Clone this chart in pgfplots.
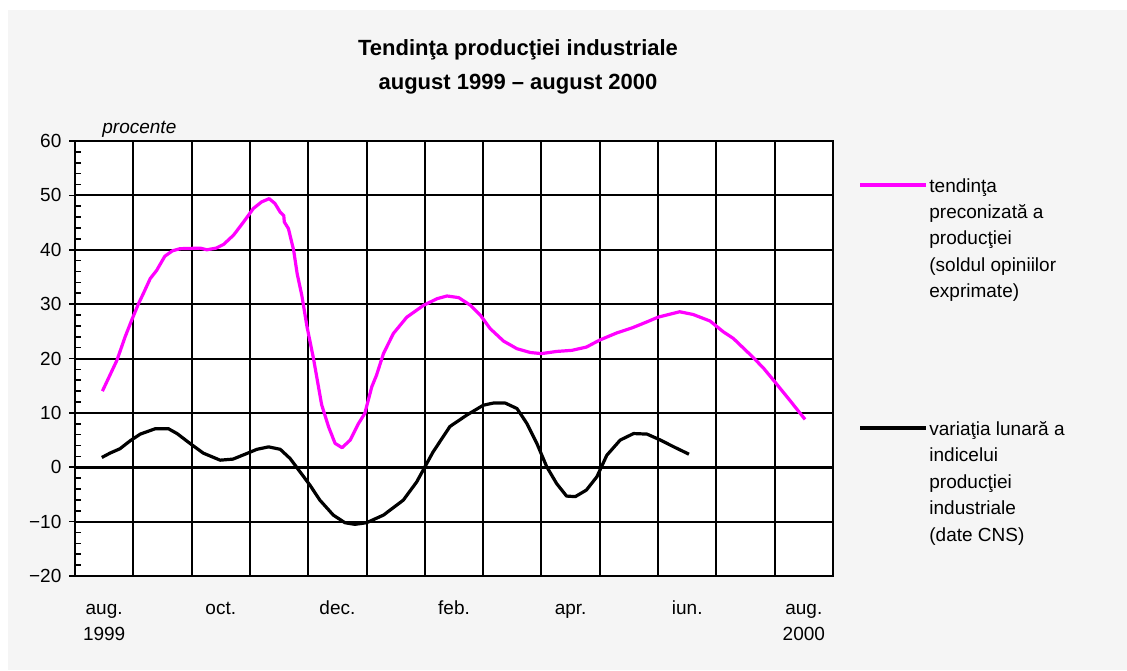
\documentclass[border=0pt]{standalone}
\usepackage{fontspec}
\setmainfont{Liberation Sans}
\usepackage{pgfplots}
\pgfplotsset{compat=1.18}
\definecolor{bg}{RGB}{245,245,245}
\definecolor{mag}{RGB}{255,0,255}

\begin{document}
\begin{tikzpicture}
\fill[white] (0pt,0pt) rectangle (563.5pt,335pt);
\fill[bg] (4pt,0pt) rectangle (563.5pt,330pt);
\begin{axis}[
    at={(37.5pt,47pt)}, anchor=south west,
    scale only axis, width=379pt, height=217.5pt,
    xmin=-0.5, xmax=12.5, ymin=-20, ymax=60,
    axis background/.style={fill=white},
    axis line style={line width=1.1pt},
    xtick={0,2,...,12},
    xticklabels={{aug.\strut\\1999},oct.\strut,dec.\strut,feb.\strut,apr.\strut,iun.\strut,{aug.\strut\\2000}},
    xticklabel style={align=center, anchor=north, font=\fontsize{9.5}{13}\selectfont, yshift=-6.5pt},
    minor xtick={0.5,1.5,...,11.5},
    xminorgrids, x tick style={draw=none},
    ytick={-20,-10,...,60},
    yticklabels={−20,−10,0,10,20,30,40,50,60},
    yticklabel style={font=\fontsize{9.5}{12}\selectfont, xshift=-3.3pt},
    minor y tick num=4,
    ymajorgrids,
    grid style={black, line width=1pt},
    minor grid style={black, line width=1pt},
    tick align=inside, ytick pos=left, xtick pos=bottom,
    y tick style={black, line width=0.8pt},
    minor tick length=3pt,
    extra y ticks={-20,-10,...,60}, extra y tick labels={},
    extra y tick style={tick align=outside, major tick length=3pt, grid=none},
]
\addplot[black, line width=1.6pt] coordinates {(-0.5,0) (12.5,0)};
\addplot[mag, line width=1.6pt, line join=round] coordinates {
(-0.03,14.0) (0.22,19.7) (0.36,24.0) (0.47,27.0) (0.59,30.1) (0.67,31.9)
(0.79,34.7) (0.90,36.2) (1.04,38.8) (1.17,39.8) (1.30,40.2) (1.65,40.3)
(1.76,40.0) (1.92,40.3) (2.05,41.0) (2.22,42.7) (2.39,45.1) (2.56,47.6)
(2.70,48.8) (2.83,49.4) (2.93,48.5) (3.02,46.9) (3.08,46.3) (3.09,45.1)
(3.16,43.9) (3.25,39.9) (3.31,35.6) (3.39,31.6) (3.48,25.8) (3.59,20.0)
(3.73,11.5) (3.85,7.4) (3.96,4.4) (4.08,3.6) (4.22,5.0) (4.36,8.0)
(4.47,9.9) (4.59,14.8) (4.67,16.9) (4.79,20.9) (4.96,24.6) (5.19,27.6)
(5.48,29.8) (5.71,31.0) (5.88,31.5) (6.08,31.2) (6.28,29.8) (6.45,28.0)
(6.62,25.5) (6.85,23.2) (7.08,21.8) (7.31,21.1) (7.50,20.9) (7.76,21.3)
(8.02,21.5) (8.27,22.1) (8.50,23.4) (8.79,24.7) (9.07,25.7) (9.30,26.7)
(9.50,27.6) (9.87,28.6) (10.10,28.1) (10.39,26.9) (10.62,24.9) (10.79,23.7)
(11.13,20.2) (11.31,18.2) (11.48,16.0) (11.76,12.3) (12.02,8.8)
};
\addplot[black, line width=1.6pt, line join=round] coordinates {
(-0.04,1.8) (0.10,2.6) (0.27,3.4) (0.45,4.9) (0.62,6.1) (0.88,7.1)
(1.10,7.1) (1.25,6.2) (1.47,4.4) (1.70,2.6) (1.99,1.3) (2.21,1.5)
(2.44,2.5) (2.62,3.3) (2.82,3.75) (3.02,3.3) (3.19,1.6) (3.36,-0.85)
(3.53,-3.3) (3.70,-6.05) (3.93,-8.8) (4.13,-10.2) (4.30,-10.5) (4.50,-10.2)
(4.79,-8.8) (5.13,-6.05) (5.36,-2.7) (5.50,0.05) (5.64,2.8) (5.93,7.5)
(6.22,9.6) (6.50,11.4) (6.67,11.8) (6.88,11.8) (7.08,10.8) (7.25,8.05)
(7.42,4.4) (7.59,0.1) (7.76,-3.0) (7.93,-5.3) (8.08,-5.4) (8.27,-4.2)
(8.45,-1.75) (8.62,2.2) (8.85,5.0) (9.08,6.2) (9.31,6.1) (9.54,5.0)
(9.77,3.75) (10.03,2.4)
};
\end{axis}
\node[font=\bfseries\fontsize{11}{17}\selectfont, align=center] at (259pt,301.5pt)
  {Tendinţa producţiei industriale\\august 1999 – august 2000};
\node[font=\itshape\fontsize{9.5}{12}\selectfont, anchor=west, inner sep=0pt] at (51pt,270.5pt) {procente};
\draw[mag, line width=1.6pt] (430pt,242.5pt) -- (463pt,242.5pt);
\node[anchor=north west, align=left, inner sep=0pt, font=\fontsize{9.5}{13.2}\selectfont] at (464.5pt,246pt)
  {tendinţa\\preconizată a\\producţiei\\(soldul opiniilor\\exprimate)};
\draw[black, line width=1.6pt] (430pt,121pt) -- (463pt,121pt);
\node[anchor=north west, align=left, inner sep=0pt, font=\fontsize{9.5}{13.2}\selectfont] at (464.5pt,124.5pt)
  {variaţia lunară a\\indicelui\\producţiei\\industriale\\(date CNS)};
\end{tikzpicture}
\end{document}
